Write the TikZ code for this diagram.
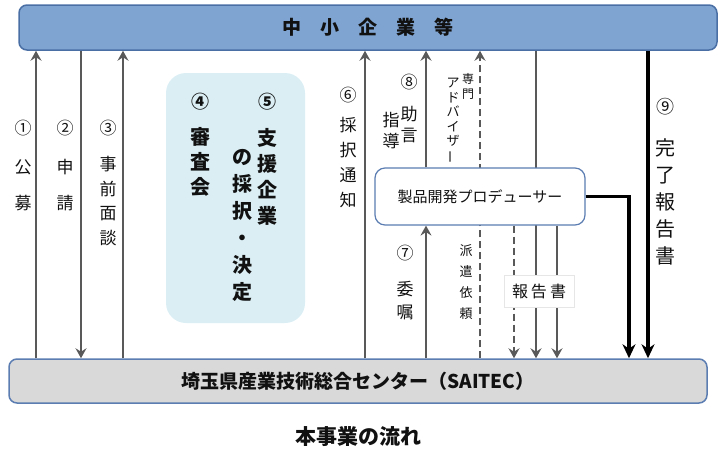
\documentclass[tikz,border=0pt]{standalone}
\usepackage{fontspec}
\setmainfont{Noto Sans CJK JP}
\usetikzlibrary{arrows.meta}
\definecolor{topfill}{HTML}{7FA4D1}
\definecolor{topdraw}{HTML}{4A6FA5}
\definecolor{botfill}{HTML}{D9D9D9}
\definecolor{botdraw}{HTML}{5B7DB1}
\definecolor{revfill}{HTML}{DAEEF4}
\definecolor{lineg}{HTML}{595959}
\definecolor{txt}{HTML}{111111}
\definecolor{labdraw}{HTML}{E6E6E6}
\newcommand\myvt[2]{\fontsize{#1}{#2}\selectfont}
\tikzset{
  flow/.style={draw=lineg, line width=2.6pt, -{Stealth[length=10pt,width=11pt,inset=3.5pt]}},
  flowd/.style={flow, dash pattern=on 7pt off 4pt},
  bigarrow/.style={draw=black, line width=3.8pt, -{Stealth[length=14pt,width=13pt,inset=4.5pt]}},
  vlab/.style={text=txt, align=center, inner sep=0pt},
  num/.style={text=txt, inner sep=0pt, font=\myvt{17}{17}},
  boxbase/.style={inner sep=0pt, text=txt},
}
\begin{document}
\begin{tikzpicture}[x=1pt,y=-1pt]
\useasboundingbox (0,0) rectangle (720,450);
% main boxes
\node[boxbase, draw=topdraw, fill=topfill, line width=1.5pt, rounded corners=8pt,
      minimum width=698pt, minimum height=45pt, font=\bfseries\myvt{19}{19}]
  (top) at (368,27.5) {中\hspace{19pt}小\hspace{19pt}企\hspace{19pt}業\hspace{19pt}等};
\node[boxbase, draw=botdraw, fill=botfill, line width=1.5pt, rounded corners=8pt,
      minimum width=698pt, minimum height=44pt, font=\bfseries\myvt{19}{19}]
  (bot) at (358,381) {埼玉県産業技術総合センター（SAITEC）};
\node[boxbase, fill=revfill, rounded corners=20pt, minimum width=139pt, minimum height=250pt]
  (rev) at (235.5,198) {};
% x positions
\coordinate (xA) at (36,0);
\coordinate (xB) at (81,0);
\coordinate (xC) at (123,0);
\coordinate (xD) at (365,0);
\coordinate (xE) at (426,0);
\coordinate (xF) at (480,0);
\coordinate (xG) at (514,0);
\coordinate (xH) at (536,0);
\coordinate (xI) at (557,0);
\coordinate (xJ) at (629,0);
\coordinate (xK) at (648,0);
% connectors behind the producer box
\draw[flow] (bot.north -| xA) -- (top.south -| xA);
\draw[flow] (top.south -| xB) -- (bot.north -| xB);
\draw[flow] (bot.north -| xC) -- (top.south -| xC);
\draw[flow] (bot.north -| xD) -- (top.south -| xD);
\draw[flowd] (bot.north -| xF) -- (top.south -| xF);
\draw[flow] (top.south -| xH) -- (bot.north -| xH);
% producer box
\node[boxbase, draw=botdraw, fill=white, line width=1.2pt, rounded corners=10pt,
      minimum width=210pt, minimum height=57pt, font=\myvt{15}{15}]
  (prod) at (480,196.5) {製品開発プロデューサー};
\draw[flow] (bot.north -| xE) -- (prod.south -| xE);
\draw[flow] (prod.north -| xE) -- (top.south -| xE);
\draw[flowd] (prod.south -| xG) -- (bot.north -| xG);
\draw[flow] (prod.south -| xI) -- (bot.north -| xI);
\draw[bigarrow] (prod.east) -| (bot.north -| xJ);
\draw[bigarrow] (top.south -| xK) -- (bot.north -| xK);
% report label
\node[boxbase, fill=white, draw=labdraw, line width=0.6pt, minimum width=70pt, minimum height=32pt,
      font=\myvt{16}{16}] (rep) at (539,291) {報\hspace{3pt}告\hspace{3pt}書};
% labels
\node[num] (n1) at (23,128) {①};
\node[vlab, font=\myvt{17}{36}] (l1) at (23,185) {公\\募};
\node[num] (n2) at (65,128) {②};
\node[vlab, font=\myvt{17}{36}] (l2) at (65,185) {申\\請};
\node[num] (n3) at (108,128) {③};
\node[vlab, font=\myvt{17}{24.5}] (l3) at (108,201) {事\\前\\面\\談};
\node[num, font=\bfseries\myvt{18}{18}] (n4) at (200,102) {④};
\node[vlab, font=\bfseries\myvt{20}{25}] (l4) at (200,162) {審\\査\\会};
\node[num, font=\bfseries\myvt{18}{18}] (n5) at (267,102) {⑤};
\node[vlab, font=\bfseries\myvt{20}{26}] (l5a) at (267,177) {支\\援\\企\\業};
\node[vlab, font=\bfseries\myvt{20}{27}] (l5b) at (242,225) {の\\採\\択\\・\\決\\定};
\node[num] (n6) at (348,95) {⑥};
\node[vlab, font=\myvt{17}{25}] (l6) at (348,163) {採\\択\\通\\知};
\node[num] (n8) at (409,82) {⑧};
\node[vlab, font=\myvt{17}{21}] (l8a) at (409,125) {助\\言};
\node[vlab, font=\myvt{17}{21}] (l8b) at (391,131) {指\\導};
\node[vlab, font=\myvt{12}{15}] (adv1) at (468,86) {専\\門};
\node[vlab, font=\myvt{13}{14.5}] (adv2) at (453,121) {ア\\ド\\バ\\イ\\ザ\\\rotatebox[origin=c]{90}{ー}};
\node[num] (n7) at (405,253) {⑦};
\node[vlab, font=\myvt{17}{23}] (l7) at (405,301) {委\\嘱};
\node[vlab, font=\myvt{13}{21}] (l7b) at (466,282) {派\\遣\\依\\頼};
\node[num, font=\myvt{18}{18}] (n9) at (665,107) {⑨};
\node[vlab, font=\myvt{20}{27}] (l9) at (665,202) {完\\了\\報\\告\\書};
% caption
\node[boxbase, font=\bfseries\myvt{21}{21}] (title) at (358,437) {本事業の流れ};
\end{tikzpicture}
\end{document}
